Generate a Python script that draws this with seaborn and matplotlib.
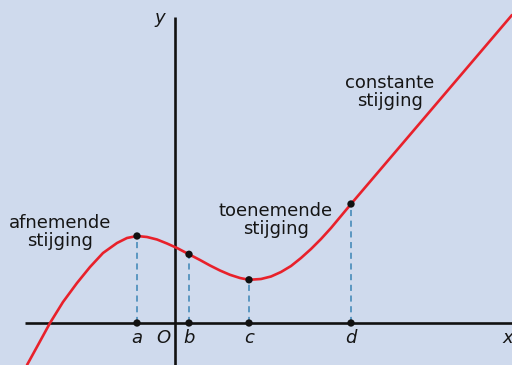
import matplotlib
matplotlib.use("Agg")
import matplotlib.pyplot as plt
import seaborn as sns
import pandas as pd

# curve points (data units, origin at the axes cross)
curve_x = [-148, -137, -125, -112, -98, -85, -72, -58, -48, -38,
           -28, -18, -8, 2, 14, 25, 35, 45, 55, 65,
           74, 86, 96, 106, 116, 126, 136, 146, 156, 166,
           176, 337]
curve_y = [-42, -22, 0, 21, 40, 56, 70, 80, 85, 87,
           86, 83.5, 79.5, 75, 68.7, 63, 57.5, 52.5, 48.2, 45,
           43.2, 44, 46.5, 51, 57, 65, 74, 84, 95, 107,
           119, 308]

# marked points
point_labels = ["a", "b", "c", "d"]
point_x = [-38, 14, 74, 176]
point_y = [87, 68.7, 43.2, 119]

region_texts = ["afnemende\nstijging", "toenemende\nstijging", "constante\nstijging"]
region_x = [-115, 100.5, 215]
region_y = [91.5, 102.5, 231.5]

sns.set_theme(style="white")
plt.rcParams['font.family'] = ['DejaVu Sans']

bg = "#cfdaed"
txt = "#151515"
fig = plt.figure(figsize=(5.12, 3.65), dpi=100, facecolor=bg)
ax = fig.add_axes([0, 0, 1, 1])
ax.set_facecolor(bg)
ax.set_xlim(-175, 337)
ax.set_ylim(-42, 323)
ax.axis("off")

# axes
ax.plot([-150, 337], [0, 0], color="#111111", lw=1.9, zorder=2, solid_capstyle="butt")
ax.plot([0, 0], [-42, 306], color="#111111", lw=1.9, zorder=2, solid_capstyle="butt")

# dashed guides
for px, py in zip(point_x, point_y):
    ax.plot([px, px], [0, py], color="#3b84b5", lw=1.1, ls=(0, (4, 3)), zorder=1)

df = pd.DataFrame({"x": curve_x, "y": curve_y})
sns.lineplot(data=df, x="x", y="y", sort=False, color="#e8212b", lw=1.9, ax=ax,
             zorder=3)
for ln in ax.lines[-1:]:
    ln.set_solid_joinstyle("round")

pts = pd.DataFrame({"x": point_x + point_x, "y": point_y + [0] * len(point_x)})
sns.scatterplot(data=pts, x="x", y="y", color="#111111", s=28, edgecolor="none",
                ax=ax, zorder=4)
ax.set_xlabel("")
ax.set_ylabel("")

for lab, px in zip(point_labels, point_x):
    ax.text(px, -15, lab, style="italic", fontsize=13, ha="center", va="center", color=txt)
ax.text(-12, -15, "O", style="italic", fontsize=13, ha="center", va="center", color=txt)
ax.text(333, -15, "x", style="italic", fontsize=13, ha="center", va="center", color=txt)
ax.text(-15, 305, "y", style="italic", fontsize=13, ha="center", va="center", color=txt)

for t, tx, ty in zip(region_texts, region_x, region_y):
    ax.text(tx, ty, t, fontsize=13, ha="center", va="center", linespacing=1.0, color=txt)

fig.savefig("out.png", dpi=100, facecolor=bg)
